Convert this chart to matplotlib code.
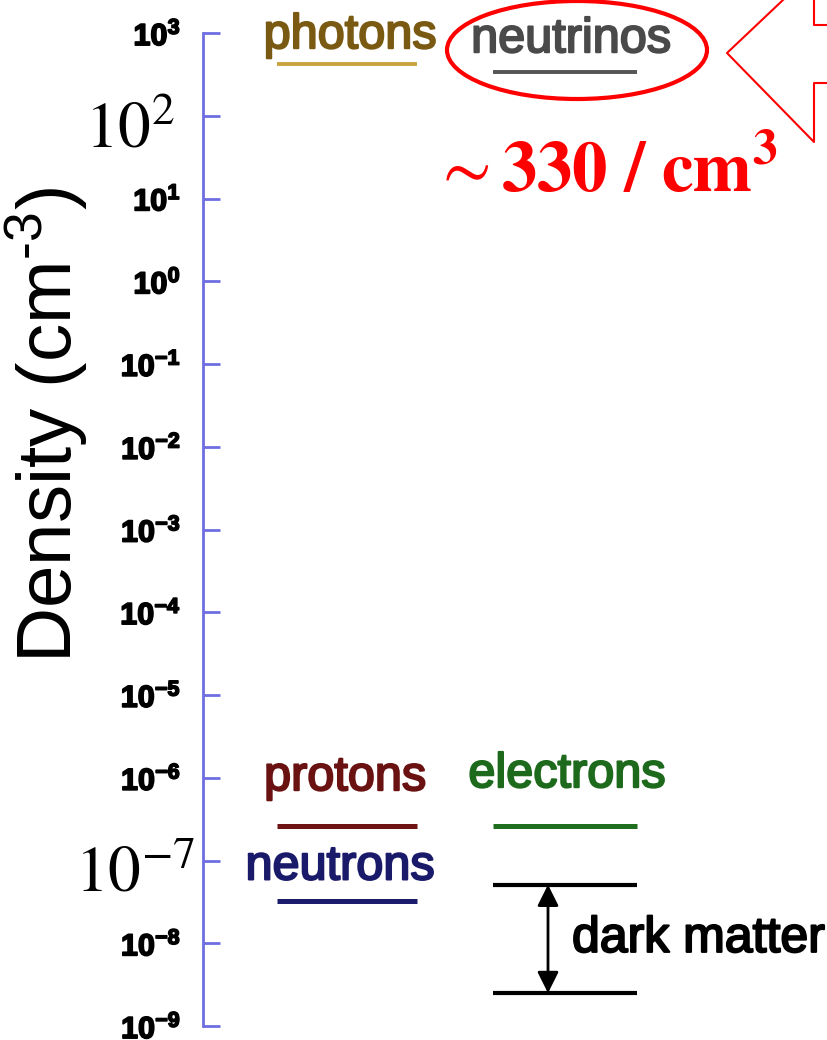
import numpy as np
import matplotlib
matplotlib.use("Agg")
import matplotlib.pyplot as plt
from matplotlib.patches import Ellipse
from matplotlib.lines import Line2D
import matplotlib.patheffects as pe

plt.rcParams["font.family"] = ["Liberation Sans", "DejaVu Sans"]
plt.rcParams["mathtext.fontset"] = "custom"
plt.rcParams["mathtext.rm"] = "Liberation Sans"
plt.rcParams["mathtext.bf"] = "Liberation Sans:bold"

# number densities today (cm^-3)
species = ["photons", "neutrinos", "protons", "electrons", "neutrons"]
density = [420, 336, 2.6e-7, 2.6e-7, 3.2e-8]
column = [0, 1, 0, 1, 0]
dark_matter = [5.1e-8, 2.5e-9]
tick_exp = list(range(-9, 4))
big_ticks = [2, -7]
callout_text = r"${\sim}\mathbf{330\ /\ cm^{3}}$"

line_colors = ["#c9a43e", "#555555", "#6e1414", "#1f6e1f", "#1c1c6e"]
text_colors = ["#7a5a12", "#4a4a4a", "#6a1212", "#1d6a1d", "#1a1a6a"]
label_dx = [3, 6, -2, 2, -7]
label_dy = [16, 20, 36, 39, 22]
line_w = [2.8, 2.8, 3.6, 3.6, 3.6]

W, H = 827, 1040
col_center = [1.44, 3.62]
col_half = [0.70, 0.72]


def fx(px):
    return px / W


def fy(py):
    return 1 - py / H


fig = plt.figure(figsize=(W / 100, H / 100), dpi=100)
ax = fig.add_axes([fx(203), fy(1026), 624 / W, 993 / H])
ax.set_yscale("log")
ax.set_ylim(1e-9, 1e3)
ax.set_xlim(0, 6.24)
for s in ["top", "right", "bottom"]:
    ax.spines[s].set_visible(False)
axis_blue = "#6e6ee0"
ax.spines["left"].set_color(axis_blue)
ax.spines["left"].set_linewidth(2)
ax.set_xticks([])
ax.set_yticks([10.0 ** e for e in tick_exp])
ax.minorticks_off()
ax.set_yticklabels(["" if e in big_ticks else r"$\mathbf{10^{%d}}$" % e for e in tick_exp])
ax.tick_params(axis="y", direction="in", length=12, width=2, color=axis_blue,
               pad=16, labelsize=22, labelcolor="black")
for lab in ax.get_yticklabels():
    lab.set_path_effects([pe.withStroke(linewidth=1.2, foreground="black")])

stroke = 1.5
for name, d, c, lc, tc, dx, dy, lw in zip(species, density, column, line_colors,
                                         text_colors, label_dx, label_dy, line_w):
    ax.hlines(d, col_center[c] - col_half[c], col_center[c] + col_half[c],
              color=lc, lw=lw)
    ax.annotate(name, xy=(col_center[c], d), xytext=(dx, dy), textcoords="offset pixels",
                ha="center", va="baseline", fontsize=35, color=tc,
                path_effects=[pe.withStroke(linewidth=stroke, foreground=tc)])

# dark matter band
for d in dark_matter:
    ax.hlines(d, col_center[1] - col_half[1], col_center[1] + col_half[1],
              color="black", lw=3)
ax.annotate("", xy=(3.45, dark_matter[1]), xytext=(3.45, dark_matter[0]),
            arrowprops=dict(arrowstyle="<|-|>", color="black", lw=2,
                            mutation_scale=32, shrinkA=0, shrinkB=0))
mid = np.sqrt(dark_matter[0] * dark_matter[1])
ax.annotate("dark matter", xy=(3.69, mid), xytext=(0, -13), textcoords="offset pixels",
            ha="left", va="baseline", fontsize=36, color="black", annotation_clip=False,
            path_effects=[pe.withStroke(linewidth=stroke, foreground="black")])

# overlaid big tick labels
big_off = {2: (-28, -32), -7: (-8, -31)}
for e in big_ticks:
    ax.annotate(r"$10^{%d}$" % e, xy=(0, 10.0 ** e), xycoords=ax.get_yaxis_transform(),
                xytext=big_off[e], textcoords="offset pixels", ha="right", va="baseline",
                fontsize=47, math_fontfamily="stix", color="black")

fig.text(fx(47), fy(425), r"Density (cm$^{\text{-3}}$)", rotation=90, ha="center",
         va="center", fontsize=55, color="black")

# red highlight around neutrinos and callout
fig.patches.append(Ellipse((fx(577), fy(50)), 260 / W, 98 / H, fill=False,
                           edgecolor="#ff0000", lw=3, transform=fig.transFigure))
fig.text(fx(432), fy(192), callout_text, ha="left", va="baseline", fontsize=51,
         math_fontfamily="stix", color="#ff0000")
call_x = [783, 727, 814, 814, 827]
call_y = [0, 53, 142, 83, 83]
fig.lines.append(Line2D([fx(v) for v in call_x], [fy(v) for v in call_y],
                        color="#ff0000", lw=1.5, transform=fig.transFigure))
fig.lines.append(Line2D([fx(814), fx(814), fx(827)], [fy(0), fy(25), fy(25)],
                        color="#ff0000", lw=1.5, transform=fig.transFigure))

fig.savefig("out.png", dpi=100)
